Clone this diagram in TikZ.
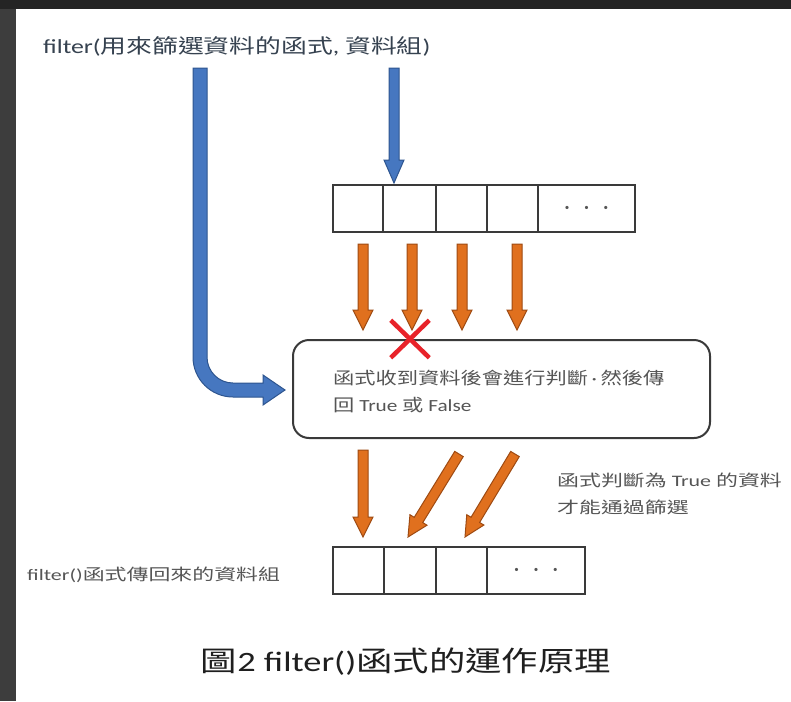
\documentclass[tikz,border=0pt]{standalone}
\usepackage{fontspec}
\setmainfont{Carlito}
\newfontfamily\cjk{Noto Sans CJK TC}
\usetikzlibrary{calc,shapes.misc}
\definecolor{darkbg}{HTML}{3D3D3D}
\definecolor{topbar}{HTML}{242424}
\definecolor{titlec}{HTML}{364250}
\definecolor{tgray}{HTML}{555555}
\definecolor{capc}{HTML}{1F1F1F}
\definecolor{cellc}{HTML}{3A3A3A}
\definecolor{ofill}{HTML}{E0701E}
\definecolor{odraw}{HTML}{9E4A12}
\definecolor{bfill}{HTML}{4677C0}
\definecolor{bdraw}{HTML}{2E558F}
\definecolor{xred}{HTML}{E8232A}
\newcommand\barrow[6]{%
  \coordinate (bH) at ($(#3)!#6!(#2)$);
  \filldraw[#1] ($(#2)!#4!90:(#3)$) -- ($(bH)!#4!90:(#3)$) -- ($(bH)!#5!90:(#3)$) -- (#3)
    -- ($(bH)!#5!-90:(#3)$) -- ($(bH)!#4!-90:(#3)$) -- ($(#2)!#4!-90:(#3)$) -- cycle;}
\newcommand\hx[2]{\scalebox{#1}[1]{#2}}
\newcommand\celldots{\fontsize{9}{9}\selectfont\textbullet\hspace{15pt}\textbullet\hspace{15pt}\textbullet\hspace{13pt}}
\begin{document}
\begin{tikzpicture}[x=1pt,y=-1pt,
  cell/.style={draw=cellc, line width=1.5, minimum height=47, inner sep=0, outer sep=0},
  oarrow/.style={fill=ofill, draw=odraw, line width=1},
  barr/.style={fill=bfill, draw=bdraw, line width=1},
  txt/.style={inner sep=0, anchor=west}]
\useasboundingbox (0,0) rectangle (791,701);
\fill[darkbg] (0,0) rectangle (791,701);
\fill[topbar] (0,0) rectangle (791,9);
\fill[white] (16,9) rectangle (791,701);

% title
\node[txt, text=titlec, font=\fontsize{20}{20}\selectfont] (title) at (43,46) {\hx{1.29}{filter({\cjk 用來篩選資料的函式}, {\cjk 資料組})}};

% top cells
\node[cell, minimum width=50] (c1) at (358,208.5) {};
\node[cell, minimum width=53] (c2) at (409.5,208.5) {};
\node[cell, minimum width=51] (c3) at (461.5,208.5) {};
\node[cell, minimum width=51] (c4) at (512.5,208.5) {};
\node[cell, minimum width=97, text=tgray] (c5) at (586.5,208.5) {\celldots};

% function box
\node[draw=cellc, line width=2, rounded corners=16, minimum width=417, minimum height=98, inner sep=0, outer sep=0] (fbox) at (501.5,389) {};
\node[txt, text=tgray, font=\fontsize{17}{17}\selectfont] (btext1) at (333,378) {\hx{1.25}{{\cjk 函式收到資料後會進行判斷}\,·\,{\cjk 然後傳}}};
\node[txt, text=tgray, font=\fontsize{17}{17}\selectfont] (btext2) at (333,405) {\hx{1.25}{{\cjk 回} True {\cjk 或} False}};

% bottom cells
\node[cell, minimum width=51] (d1) at (358.5,570.5) {};
\node[cell, minimum width=52] (d2) at (410,570.5) {};
\node[cell, minimum width=51] (d3) at (461.5,570.5) {};
\node[cell, minimum width=98, text=tgray] (d4) at (536,570.5) {\celldots};

% side texts
\node[txt, text=tgray, font=\fontsize{16}{16}\selectfont] (rtext1) at (557,480) {\hx{1.37}{{\cjk 函式判斷為} True {\cjk 的資料}}};
\node[txt, text=tgray, font=\fontsize{16}{16}\selectfont] (rtext2) at (557,507) {\hx{1.37}{{\cjk 才能通過篩選}}};
\node[txt, text=tgray, font=\fontsize{16}{16}\selectfont] (ltext) at (27,575) {\hx{1.37}{filter(){\cjk 函式傳回來的資料組}}};
\node[inner sep=0, text=capc, font=\fontsize{28}{28}\selectfont] (cap) at (406,662) {\hx{1.3}{{\cjk 圖}2 filter(){\cjk 函式的運作原理}}};

% blue arrows
\coordinate (bs1) at (394,68);
\coordinate (bt1) at ($(c2.north west)+(11,-2)$);
\barrow{barr}{bs1}{bt1}{5pt}{10pt}{23pt}
\filldraw[barr] (193,68) -- (207,68) -- (207,357) .. controls (207,371.4) and (218.6,383) .. (233,383)
  -- (263,383) -- (263,375) -- ($(fbox.west)+(-8,1)$) -- (263,405) -- (263,397) -- (233,397)
  .. controls (210.9,397) and (193,379.1) .. (193,357) -- cycle;

% orange arrows top
\foreach \i/\x in {1/363,2/412,3/462,4/517}{
  \coordinate (os\i) at (\x,244);
  \coordinate (ot\i) at (\x,330);
  \barrow{oarrow}{os\i}{ot\i}{5pt}{10pt}{20pt}
}
% red cross
\node[cross out, draw=xred, line width=4.5, minimum width=34, minimum height=33, inner sep=0] (xmark) at (410,339) {};

% orange arrows bottom
\coordinate (ps1) at (363,450);
\coordinate (pt1) at ($(d1.north)+(4.5,-10)$);
\coordinate (ps2) at (459,454);
\coordinate (pt2) at ($(d2.north)+(-2,-10)$);
\coordinate (ps3) at (515,454);
\coordinate (pt3) at ($(d3.north)+(3.5,-10)$);
\barrow{oarrow}{ps1}{pt1}{5pt}{10pt}{20pt}
\barrow{oarrow}{ps2}{pt2}{5pt}{10pt}{20pt}
\barrow{oarrow}{ps3}{pt3}{5pt}{10pt}{20pt}
\end{tikzpicture}
\end{document}
